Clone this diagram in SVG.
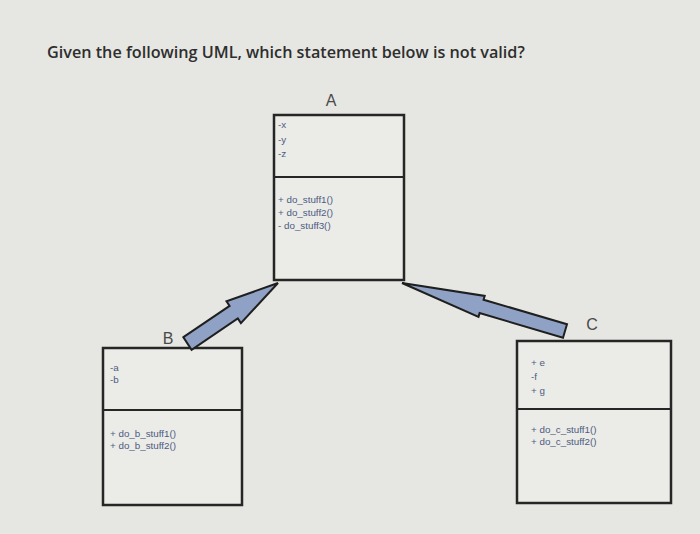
<svg xmlns="http://www.w3.org/2000/svg" width="700" height="534" viewBox="0 0 700 534">
<defs>
<style>
.bg{fill:#e6e6e2}
.box{fill:#ebebe7;stroke:#262626;stroke-width:2.5}
.div{stroke:#262626;stroke-width:2.2}
.title{font-family:"Open Sans","Lato",sans-serif;font-size:16.2px;font-weight:600;fill:#2e2e2e}
.name{font-family:"Liberation Sans",Arial,sans-serif;font-size:16px;fill:#4a4a4a}
.mem{font-family:"Liberation Sans",Arial,sans-serif;font-size:9.8px;fill:#4b5b82}
.arrow{fill:#8fa2c6;stroke:#1f1f1f;stroke-width:2;stroke-linejoin:miter}
</style>
</defs>
<rect class="bg" x="0" y="0" width="700" height="534"/>
<text class="title" x="47" y="58">Given the following UML, which statement below is not valid?</text>

<g id="classA">
<text class="name" x="331" y="106" text-anchor="middle">A</text>
<rect class="box" x="274" y="115" width="130" height="165"/>
<line class="div" x1="274" y1="177" x2="404" y2="177"/>
<text class="mem" x="278" y="128">-x</text>
<text class="mem" x="278" y="143">-y</text>
<text class="mem" x="278" y="157">-z</text>
<text class="mem" x="278" y="203">+ do_stuff1()</text>
<text class="mem" x="278" y="216">+ do_stuff2()</text>
<text class="mem" x="278" y="229">- do_stuff3()</text>
</g>

<g id="classB">
<text class="name" x="168" y="344" text-anchor="middle">B</text>
<rect class="box" x="103" y="348" width="139" height="157"/>
<line class="div" x1="103" y1="410" x2="242" y2="410"/>
<text class="mem" x="110" y="371">-a</text>
<text class="mem" x="110" y="383">-b</text>
<text class="mem" x="110" y="437">+ do_b_stuff1()</text>
<text class="mem" x="110" y="449">+ do_b_stuff2()</text>
</g>

<g id="classC">
<text class="name" x="592" y="330" text-anchor="middle">C</text>
<rect class="box" x="517" y="341" width="154" height="162"/>
<line class="div" x1="517" y1="409" x2="671" y2="409"/>
<text class="mem" x="531" y="366">+ e</text>
<text class="mem" x="531" y="380">-f</text>
<text class="mem" x="531" y="394">+ g</text>
<text class="mem" x="531" y="433">+ do_c_stuff1()</text>
<text class="mem" x="531" y="445">+ do_c_stuff2()</text>
</g>

<g id="connectors">
<polygon class="arrow" points="183.4,337.2 229.6,305.9 226.5,301.3 278,283 240.9,323.1 237.8,318.5 191.6,349.8"/>
<polygon class="arrow" points="402,283 484.7,295.9 483.6,299.7 567,324.3 563,337.7 479.6,313.1 478.5,316.9"/>
</g>
</svg>
